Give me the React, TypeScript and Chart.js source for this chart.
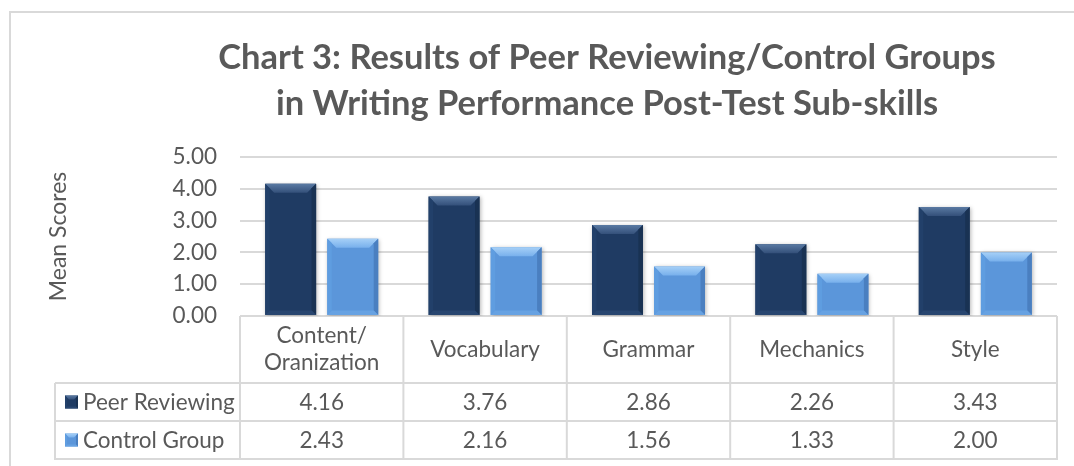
import React, { useEffect, useRef } from 'react';
import { Chart, registerables } from 'chart.js';

Chart.register(...registerables);

// ---- Data ----
const categories: (string | string[])[] = [['Content/', 'Oranization'], 'Vocabulary', 'Grammar', 'Mechanics', 'Style'];
const peerReviewing = [4.16, 3.76, 2.86, 2.26, 3.43];
const controlGroup = [2.43, 2.16, 1.56, 1.33, 2.0];
const seriesNames = ['Peer Reviewing', 'Control Group'];
const yTicks = [0, 1, 2, 3, 4, 5];
const titleLines = ['Chart 3: Results of Peer Reviewing/Control Groups', 'in Writing Performance Post-Test Sub-skills'];
const yAxisTitle = 'Mean Scores';

// ---- Style ----
const FONT = 'Lato, "Open Sans", sans-serif';
const TEXT = '#595959';
const GRID = '#d9d9d9';
const FS = 22.5;
const BAR_COLORS = ['#1F3B63', '#5B96DA'];
const BEVEL = [
  { topHi: '#5a7aa3', topLo: '#34507a', left: '#22406a', right: '#193253', bottom: '#284670' },
  { topHi: '#a6d0f7', topLo: '#78b0ec', left: '#5f9de0', right: '#4a7fc0', bottom: '#67a2e2' },
];

function poly(ctx: CanvasRenderingContext2D, pts: number[][], fill: any) {
  ctx.beginPath();
  ctx.moveTo(pts[0][0], pts[0][1]);
  for (let i = 1; i < pts.length; i++) ctx.lineTo(pts[i][0], pts[i][1]);
  ctx.closePath();
  ctx.fillStyle = fill;
  ctx.fill();
}

function drawBevelRect(ctx: CanvasRenderingContext2D, x0: number, y0: number, x1: number, y1: number, b: number, pal: any) {
  const g = ctx.createLinearGradient(0, y0, 0, y0 + b);
  g.addColorStop(0, pal.topHi);
  g.addColorStop(1, pal.topLo);
  poly(ctx, [[x0, y0], [x1, y0], [x1 - b, y0 + b], [x0 + b, y0 + b]], g);
  poly(ctx, [[x0, y0], [x0 + b * 0.5, y0 + b * 0.5], [x0 + b * 0.5, y1 - b * 0.5], [x0, y1]], pal.left);
  poly(ctx, [[x1, y0], [x1, y1], [x1 - b * 0.5, y1 - b * 0.5], [x1 - b * 0.5, y0 + b * 0.5]], pal.right);
  poly(ctx, [[x0, y1], [x0 + b * 0.5, y1 - b * 0.5], [x1 - b * 0.5, y1 - b * 0.5], [x1, y1]], pal.bottom);
}

const framePlugin = {
  id: 'frame',
  beforeDraw(chart: any) {
    const ctx = chart.ctx;
    ctx.save();
    ctx.fillStyle = '#ffffff';
    ctx.fillRect(0, 0, chart.width, chart.height);
    ctx.strokeStyle = GRID;
    ctx.lineWidth = 2;
    ctx.strokeRect(10, 12, chart.width + 20, chart.height + 20);
    ctx.restore();
  },
  beforeDatasetsDraw(chart: any) {
    const ctx = chart.ctx;
    ctx.save();
    ctx.shadowColor = 'rgba(0,0,0,0.28)';
    ctx.shadowBlur = 4;
    ctx.shadowOffsetX = 1;
    ctx.shadowOffsetY = 1;
  },
  afterDatasetsDraw(chart: any) {
    const ctx = chart.ctx;
    ctx.restore();
    ctx.save();
    chart.data.datasets.forEach((_ds: any, di: number) => {
      const meta = chart.getDatasetMeta(di);
      const pal = BEVEL[di];
      meta.data.forEach((bar: any) => {
        const { x, y, base, width } = bar.getProps(['x', 'y', 'base', 'width'], true);
        const x0 = x - width / 2;
        const x1 = x + width / 2;
        const b = Math.min(9, (base - y) / 2, width / 2);
        drawBevelRect(ctx, x0, y, x1, base, b, pal);
      });
    });
    ctx.restore();
  },
  afterDraw(chart: any) {
    const { ctx, chartArea } = chart;
    const xs = chart.scales.x;
    ctx.save();
    // Title
    ctx.fillStyle = TEXT;
    ctx.font = `bold 34.5px ${FONT}`;
    ctx.textAlign = 'center';
    ctx.textBaseline = 'middle';
    ctx.fillText(titleLines[0], 607, 58);
    ctx.fillText(titleLines[1], 607, 104);

    // Data table
    const n = categories.length;
    const cw = (chartArea.right - chartArea.left) / n;
    const top = chartArea.bottom;
    const headerH = 67;
    const rowH = 38;
    const r1 = top + headerH;
    const r2 = r1 + rowH;
    const r3 = r2 + rowH;
    const leftX = 55;
    const right = xs.getPixelForValue(n - 1) + cw / 2;
    ctx.strokeStyle = GRID;
    ctx.lineWidth = 2;
    const line = (ax: number, ay: number, bx: number, by: number) => {
      ctx.beginPath();
      ctx.moveTo(ax, ay);
      ctx.lineTo(bx, by);
      ctx.stroke();
    };
    line(leftX, r1, right, r1);
    line(leftX, r2, right, r2);
    line(leftX - 1, r3, right + 1, r3);
    for (let i = 0; i <= n; i++) {
      const x = i < n ? xs.getPixelForValue(i) - cw / 2 : right;
      line(x, top, x, r3);
    }
    line(leftX, r1, leftX, r3);

    ctx.font = `${FS}px ${FONT}`;
    ctx.fillStyle = TEXT;
    const rows = [peerReviewing, controlGroup];
    rows.forEach((vals, ri) => {
      const cy = r1 + rowH * ri + rowH / 2;
      // legend key
      const kx = 65, ks = 13;
      ctx.fillStyle = BAR_COLORS[ri];
      ctx.fillRect(kx, cy - ks / 2, ks, ks);
      drawBevelRect(ctx, kx, cy - ks / 2, kx + ks, cy + ks / 2, 4, BEVEL[ri]);
      ctx.fillStyle = TEXT;
      ctx.textAlign = 'left';
      ctx.fillText(seriesNames[ri], 83, cy + 1);
      ctx.textAlign = 'center';
      vals.forEach((v, ci) => {
        ctx.fillText(v.toFixed(2), xs.getPixelForValue(ci), cy + 1);
      });
    });
    ctx.restore();
  },
};

export default function App() {
  const canvasRef = useRef<HTMLCanvasElement | null>(null);

  useEffect(() => {
    document.body.style.margin = '0';
    const canvas = canvasRef.current;
    if (!canvas) return;
    const chart = new Chart(canvas, {
      type: 'bar',
      data: {
        labels: categories as any,
        datasets: [
          { label: seriesNames[0], data: peerReviewing, backgroundColor: BAR_COLORS[0], borderWidth: 0 },
          { label: seriesNames[1], data: controlGroup, backgroundColor: BAR_COLORS[1], borderWidth: 0 },
        ],
      },
      options: {
        responsive: false,
        animation: false,
        devicePixelRatio: 1,
        layout: { padding: { left: 0, right: 17, top: 157, bottom: 0 } },
        datasets: { bar: { categoryPercentage: 0.76, barPercentage: 0.82 } },
        plugins: {
          legend: { display: false },
          title: { display: false },
          tooltip: { enabled: false },
        },
        scales: {
          x: {
            offset: true,
            grid: { display: false, drawTicks: false },
            border: { display: false },
            ticks: {
              color: TEXT,
              font: { family: FONT, size: FS, lineHeight: 1.2 },
              padding: 20,
              crossAlign: 'center',
              maxRotation: 0,
              autoSkip: false,
            },
            afterFit: (s: any) => {
              s.height = 150;
            },
          },
          y: {
            min: yTicks[0],
            max: yTicks[yTicks.length - 1],
            grid: { color: GRID, lineWidth: 2, drawTicks: false },
            border: { display: false },
            ticks: {
              stepSize: 1,
              color: TEXT,
              font: { family: FONT, size: FS },
              padding: 23,
              callback: (v: any) => Number(v).toFixed(2),
            },
            title: {
              display: true,
              text: yAxisTitle,
              color: TEXT,
              font: { family: FONT, size: 23 },
              padding: { top: 45, bottom: 0 },
            },
            afterFit: (s: any) => {
              s.width = 240;
            },
          },
        },
      },
      plugins: [framePlugin],
    });
    return () => chart.destroy();
  }, []);

  return (
    <div style={{ width: 1074, height: 466 }}>
      <canvas ref={canvasRef} width={1074} height={466} style={{ display: 'block', width: 1074, height: 466 }} />
    </div>
  );
}
